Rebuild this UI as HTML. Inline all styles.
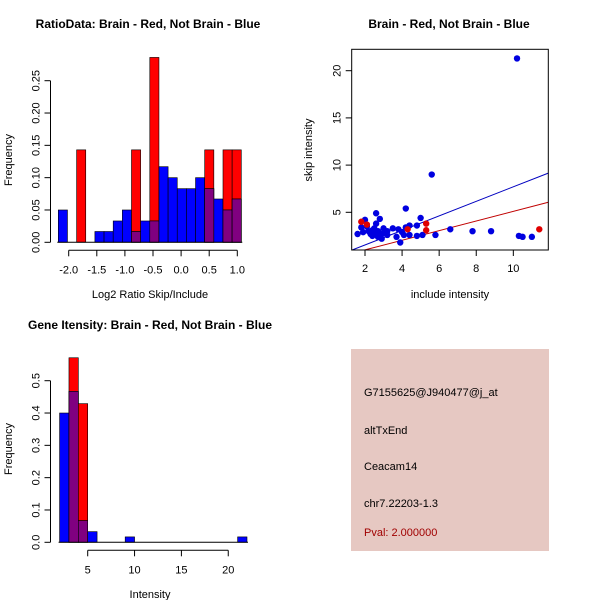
<!DOCTYPE html>
<html><head><meta charset="utf-8"><style>
body{margin:0;background:#fff}
svg{display:block;font-family:"Liberation Sans",sans-serif}
</style></head><body>
<svg id="c" width="600" height="600" viewBox="0 0 600 600" xmlns="http://www.w3.org/2000/svg">
<rect width="600" height="600" fill="#fff"/>
<text x="148" y="28" text-anchor="middle" font-size="12" font-weight="bold">RatioData: Brain - Red, Not Brain - Blue</text>
<text x="449" y="28" text-anchor="middle" font-size="12" font-weight="bold">Brain - Red, Not Brain - Blue</text>
<text x="150" y="329" text-anchor="middle" font-size="12" font-weight="bold">Gene Itensity: Brain - Red, Not Brain - Blue</text>
<rect x="351" y="349" width="198" height="202" fill="#e6c8c2"/>
<text x="364" y="396" font-size="11">G7155625@J940477@j_at</text>
<text x="364" y="434" font-size="11">altTxEnd</text>
<text x="364" y="470" font-size="11">Ceacam14</text>
<text x="364" y="507" font-size="11">chr7.22203-1.3</text>
<text x="364" y="536" font-size="11" fill="#a00000">Pval: 2.000000</text>
<g id="g1"></g><g id="g2"></g><g id="g3"></g>
</svg>
<script>
// Ratio histogram data
const ratioStart = -2.185, ratioWidth = 0.1628;
const ratioBlue = [0.05,0,0,0,0.0167,0.0167,0.033,0.05,0.0167,0.033,0.033,0.117,0.1,0.083,0.083,0.1,0.083,0.067,0.05,0.067];
const ratioRed  = [0,0,0.143,0,0,0,0,0,0.143,0,0.286,0,0,0,0,0,0.143,0,0.143,0.143];
const ratioXTicks = [-2.0,-1.5,-1.0,-0.5,0.0,0.5,1.0];
const ratioYTicks = [0.00,0.05,0.10,0.15,0.20,0.25];
// Scatter data
const blueX = [1.6,1.8,1.9,2.0,2.1,2.2,2.3,2.4,2.5,2.5,2.6,2.6,2.7,2.8,2.8,2.9,3.0,3.0,3.2,3.2,2.4,2.7,3.5,3.7,3.8,3.9,4.0,4.1,4.2,4.2,4.4,4.4,4.8,4.8,5.0,5.1,5.6,5.8,6.6,7.8,8.8,10.2,10.3,10.5,11.0];
const blueY = [2.7,3.4,2.9,4.2,3.5,3.0,2.7,2.5,3.3,2.8,4.9,3.8,3.0,2.5,4.3,2.2,2.8,3.3,2.6,3.0,3.1,2.4,3.3,2.4,3.2,1.8,2.9,2.6,3.4,5.4,2.6,3.6,3.6,2.5,4.4,2.6,9.0,2.6,3.2,3.0,3.0,21.3,2.5,2.4,2.4];
const redX = [1.8,2.1,4.3,5.3,5.3,11.4];
const redY = [4.0,3.7,3.2,3.8,3.1,3.2];
const lineSlopes = [0.77,0.51];
const scXTicks = [2,4,6,8,10];
const scYTicks = [5,10,15,20];
// Intensity histogram data
const intStart = 2, intWidth = 1;
const intBlue = [0.4,0.467,0.067,0.033,0,0,0,0.0167,0,0,0,0,0,0,0,0,0,0,0,0.0167];
const intRed  = [0,0.571,0.429,0,0,0,0,0,0,0,0,0,0,0,0,0,0,0,0,0];
const intXTicks = [5,10,15,20];
const intYTicks = [0.0,0.1,0.2,0.3,0.4,0.5];

const NS="http://www.w3.org/2000/svg";
function mk(p,tag,a){const e=document.createElementNS(NS,tag);for(const k in a)e.setAttribute(k,a[k]);p.appendChild(e);return e;}
function txt(p,x,y,s,rot,anchor){const t=mk(p,'text',{x:x,y:y,'font-size':11,'text-anchor':anchor||'middle'});if(rot)t.setAttribute('transform','rotate(-90 '+x+' '+y+')');t.textContent=s;return t;}

function hist(g,o){
  const X=v=>o.x0+(v-o.xv0)*o.xs, Y=v=>o.y0-v*o.ys;
  for(let i=0;i<o.red.length;i++){
    const a=X(o.start+i*o.w), b=X(o.start+(i+1)*o.w);
    const r=o.red[i], bl=o.blue[i];
    if(r>0){const e=mk(g,'rect',{x:a,y:Y(r),width:b-a,height:Y(0)-Y(r),fill:'#ff0000',stroke:'#000','stroke-width':0.6});
      
      }
    if(bl>0){const ov=Math.min(r,bl);
      const e=mk(g,'rect',{x:a,y:Y(bl),width:b-a,height:Y(0)-Y(bl),fill:'#0000ff',stroke:'#000','stroke-width':0.6});
      
      
      if(ov>0){const p=mk(g,'rect',{x:a,y:Y(ov),width:b-a,height:Y(0)-Y(ov),fill:'#800080',stroke:'#000','stroke-width':0.6});
        
        }}
  }
  const yt=o.yticks;
  mk(g,'line',{x1:o.ax,y1:Y(yt[0]),x2:o.ax,y2:Y(yt[yt.length-1]),stroke:'#000'});
  yt.forEach(v=>{mk(g,'line',{x1:o.ax,y1:Y(v),x2:o.ax-6,y2:Y(v),stroke:'#000'});
    const t=txt(g,o.ax-11,Y(v),v.toFixed(o.ydec),true);
    
    });
  mk(g,'line',{x1:X(o.start)-1,y1:o.y0,x2:X(o.start+o.red.length*o.w)+1,y2:o.y0,stroke:'#000'});
  const xt=o.xticks, ay=o.y0+8;
  mk(g,'line',{x1:X(xt[0]),y1:ay,x2:X(xt[xt.length-1]),y2:ay,stroke:'#000'});
  xt.forEach(v=>{mk(g,'line',{x1:X(v),y1:ay,x2:X(v),y2:ay+6,stroke:'#000'});
    const t=txt(g,X(v),ay+23,v.toFixed(o.xdec));
    
    });
  const yl=txt(g,12,o.ylabY,'Frequency',true);
  
  
  const xl=txt(g,o.xlabX,o.xlabY,o.xlab);
  
  
}
hist(document.getElementById('g1'),{x0:68.7,xv0:-2,xs:56.2,y0:242.3,ys:646.4,start:ratioStart,w:ratioWidth,red:ratioRed,blue:ratioBlue,
  yticks:ratioYTicks,xticks:ratioXTicks,ax:50.5,ydec:2,xdec:1,ylabY:160,xlabX:150,xlabY:298,xlab:'Log2 Ratio Skip/Include'});
hist(document.getElementById('g3'),{x0:87.7,xv0:5,xs:9.37,y0:542.3,ys:323.2,start:intStart,w:intWidth,red:intRed,blue:intBlue,
  yticks:intYTicks,xticks:intXTicks,ax:50.5,ydec:1,xdec:0,ylabY:449,xlabX:150,xlabY:598,xlab:'Intensity'});

(function(){
  const g=document.getElementById('g2');
  const L=351.7,R=548.3,T=49.3,B=250;
  const X=v=>365+(v-2)*18.54, Y=v=>212.3-(v-5)*9.44;
  const xmin=(L-365)/18.54+2, xmax=(R-365)/18.54+2, ymin=5-(B-212.3)/9.44;
  const cp=mk(g,'clipPath',{id:'cp'});mk(cp,'rect',{x:L,y:T,width:R-L,height:B-T});
  const cols=['#0000c0','#c00000'];
  lineSlopes.forEach((s,i)=>{
    const x1=Math.max(xmin,ymin/s);
    const l=mk(g,'line',{x1:X(x1),y1:Y(s*x1),x2:X(xmax),y2:Y(s*xmax),stroke:cols[i],'stroke-width':1,'clip-path':'url(#cp)'});
    
    
  });
  blueX.forEach((v,i)=>{const c=mk(g,'circle',{cx:X(v),cy:Y(blueY[i]),r:3.2,fill:'#0000e0'});
    
    });
  redX.forEach((v,i)=>{const c=mk(g,'circle',{cx:X(v),cy:Y(redY[i]),r:3.2,fill:'#e00000'});
    
    });
  mk(g,'rect',{x:L,y:T,width:R-L,height:B-T,fill:'none',stroke:'#000'});
  scXTicks.forEach(v=>{mk(g,'line',{x1:X(v),y1:B,x2:X(v),y2:B+6,stroke:'#000'});
    const t=txt(g,X(v),B+22,String(v));
    
    });
  scYTicks.forEach(v=>{mk(g,'line',{x1:L,y1:Y(v),x2:L-6,y2:Y(v),stroke:'#000'});
    const t=txt(g,L-11,Y(v),String(v),true);
    
    });
  const xl=txt(g,450,298,'include intensity');
  
  
  const yl=txt(g,312,150,'skip intensity',true);
  
  
})();
</script>
</body></html>
